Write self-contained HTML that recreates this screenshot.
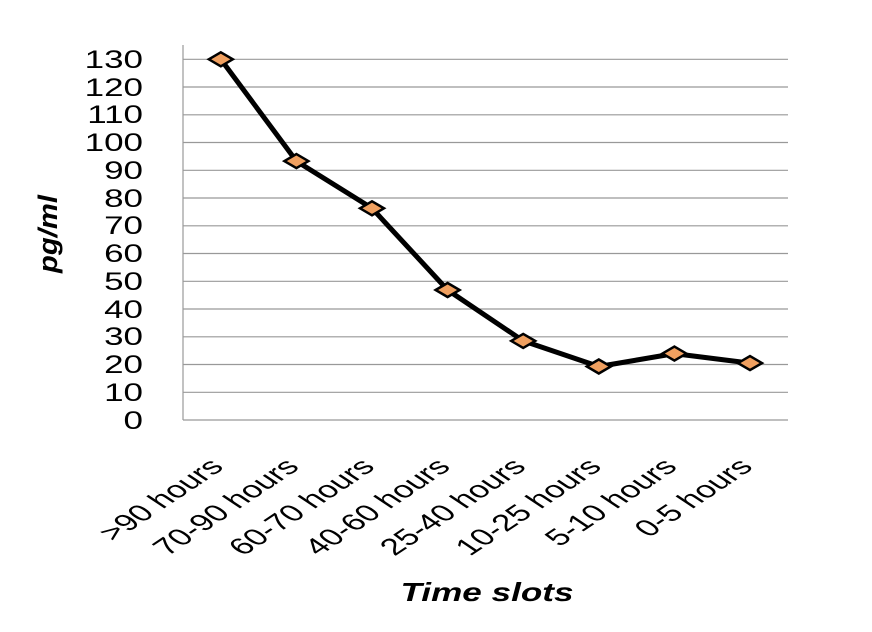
<!DOCTYPE html>
<html><head><meta charset="utf-8"><style>html,body{margin:0;padding:0;background:#fff;}svg{display:block}</style></head>
<body>
<svg width="872" height="632" viewBox="0 0 872 632" xmlns="http://www.w3.org/2000/svg" font-family="'Liberation Sans','DejaVu Sans',sans-serif">
<g stroke="#999" stroke-width="1.2">
<line x1="183" y1="59.3" x2="788" y2="59.3"/>
<line x1="183" y1="87" x2="788" y2="87"/>
<line x1="183" y1="114.8" x2="788" y2="114.8"/>
<line x1="183" y1="142.5" x2="788" y2="142.5"/>
<line x1="183" y1="170.3" x2="788" y2="170.3"/>
<line x1="183" y1="198" x2="788" y2="198"/>
<line x1="183" y1="225.8" x2="788" y2="225.8"/>
<line x1="183" y1="253.5" x2="788" y2="253.5"/>
<line x1="183" y1="281.3" x2="788" y2="281.3"/>
<line x1="183" y1="309" x2="788" y2="309"/>
<line x1="183" y1="336.8" x2="788" y2="336.8"/>
<line x1="183" y1="364.5" x2="788" y2="364.5"/>
<line x1="183" y1="392.3" x2="788" y2="392.3"/>
<line x1="183" y1="420" x2="788" y2="420"/>
<line x1="183" y1="45" x2="183" y2="420"/>
</g>
<g font-size="25" text-anchor="end" fill="#000" transform="translate(143,0) scale(1.4,1)">
<text x="0" y="68">130</text><text x="0" y="96">120</text><text x="0" y="123">110</text><text x="0" y="151">100</text><text x="0" y="179">90</text><text x="0" y="207">80</text><text x="0" y="234">70</text><text x="0" y="262">60</text><text x="0" y="290">50</text><text x="0" y="318">40</text><text x="0" y="345">30</text><text x="0" y="373">20</text><text x="0" y="401">10</text><text x="0" y="429">0</text>
</g>
<polyline fill="none" stroke="#000" stroke-width="5" stroke-linejoin="round" points="220.8,59.3 296.4,161.1 372,208.3 447.6,290 523.2,340.9 598.8,366.5 674.4,353.6 750,363.1"/>
<g fill="#f0a060" stroke="#000" stroke-width="2.5">
<path d="M208.8 59.3 L220.8 52.3 L232.8 59.3 L220.8 66.3Z"/>
<path d="M284.4 161.1 L296.4 154.1 L308.4 161.1 L296.4 168.1Z"/>
<path d="M360 208.3 L372 201.3 L384 208.3 L372 215.3Z"/>
<path d="M435.6 290 L447.6 283 L459.6 290 L447.6 297Z"/>
<path d="M511.2 340.9 L523.2 333.9 L535.2 340.9 L523.2 347.9Z"/>
<path d="M586.8 366.5 L598.8 359.5 L610.8 366.5 L598.8 373.5Z"/>
<path d="M662.4 353.6 L674.4 346.6 L686.4 353.6 L674.4 360.6Z"/>
<path d="M738 363.1 L750 356.1 L762 363.1 L750 370.1Z"/>
</g>
<g font-size="23.5" text-anchor="end" fill="#000">
<text transform="translate(225,468) scale(1.5,1) rotate(-45)">&gt;90 hours</text>
<text transform="translate(300.6,468) scale(1.5,1) rotate(-45)">70-90 hours</text>
<text transform="translate(376.2,468) scale(1.5,1) rotate(-45)">60-70 hours</text>
<text transform="translate(451.8,468) scale(1.5,1) rotate(-45)">40-60 hours</text>
<text transform="translate(527.4,468) scale(1.5,1) rotate(-45)">25-40 hours</text>
<text transform="translate(603,468) scale(1.5,1) rotate(-45)">10-25 hours</text>
<text transform="translate(678.6,468) scale(1.5,1) rotate(-45)">5-10 hours</text>
<text transform="translate(754.2,468) scale(1.5,1) rotate(-45)">0-5 hours</text>
</g>
<text x="487" y="601" font-size="26" font-weight="bold" font-style="italic" text-anchor="middle" textLength="173" lengthAdjust="spacingAndGlyphs">Time slots</text>
<text transform="translate(57,234) rotate(-90)" font-size="27" font-weight="bold" font-style="italic" text-anchor="middle" textLength="78" lengthAdjust="spacingAndGlyphs">pg/ml</text>
</svg>
</body></html>
